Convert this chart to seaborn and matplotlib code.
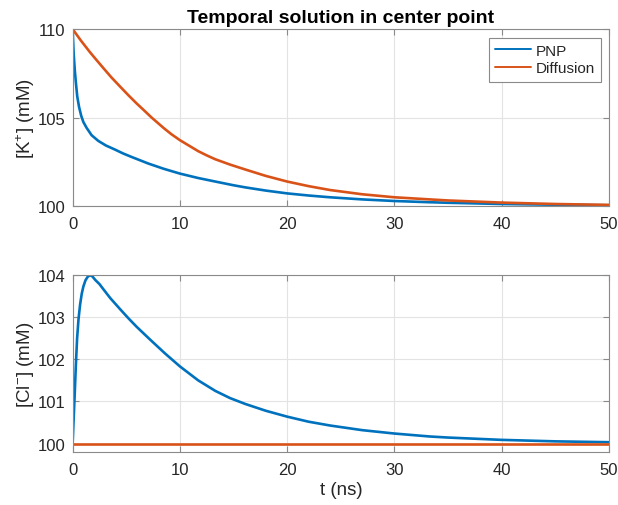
import numpy as np
import pandas as pd
import matplotlib
matplotlib.use("Agg")
import matplotlib.pyplot as plt
import seaborn as sns

# values
t_k_pnp = [0, 0.05, 0.1, 0.2, 0.3, 0.43, 0.6, 0.8, 1.0, 1.3, 1.77, 2.39, 3.1, 3.94, 4.7, 5.5, 7.05, 8.5, 10, 11.7, 13.3, 15, 16.1, 18, 20, 22, 24, 27, 30, 33.3, 35, 40, 45, 50]
k_pnp = [110, 109.3, 108.6, 107.7, 107.0, 106.2, 105.6, 105.1, 104.75, 104.42, 104.0, 103.68, 103.42, 103.19, 102.97, 102.77, 102.4, 102.1, 101.83, 101.58, 101.38, 101.17, 101.05, 100.87, 100.71, 100.59, 100.49, 100.37, 100.28, 100.21, 100.18, 100.11, 100.07, 100.04]

t_k_diff = [0, 0.8, 1.61, 2.2, 2.86, 3.6, 4.41, 5.2, 5.96, 6.7, 7.36, 8.5, 9.2, 10, 11.7, 12.5, 13.3, 14.67, 16.1, 18, 20, 22, 24, 27, 30, 33.3, 35, 40, 45, 50]
k_diff = [110, 109.33, 108.7, 108.27, 107.8, 107.28, 106.76, 106.26, 105.8, 105.38, 105.0, 104.4, 104.06, 103.72, 103.1, 102.86, 102.64, 102.34, 102.06, 101.7, 101.38, 101.12, 100.9, 100.66, 100.49, 100.37, 100.31, 100.19, 100.11, 100.06]

t_cl_pnp = [0, 0.1, 0.2, 0.3, 0.42, 0.55, 0.7, 0.85, 1.0, 1.2, 1.4, 1.61, 1.85, 2.1, 2.5, 2.86, 3.5, 4.41, 5.2, 5.96, 7.2, 8.6, 10, 11.7, 13.3, 14.67, 16.1, 18, 20, 22, 24, 27, 30, 33.3, 35, 40, 45, 50]
cl_pnp = [100, 100.6, 101.2, 101.85, 102.5, 102.95, 103.3, 103.55, 103.72, 103.87, 103.95, 103.99, 103.96, 103.88, 103.78, 103.66, 103.45, 103.19, 102.97, 102.77, 102.47, 102.14, 101.83, 101.5, 101.25, 101.08, 100.94, 100.78, 100.64, 100.52, 100.43, 100.32, 100.24, 100.17, 100.145, 100.09, 100.055, 100.035]

t_cl_diff = [0, 50]
cl_diff = [100, 100]

blue = "#0072BD"
red = "#D95319"
dark = "#262626"
edge = "#8a8a8a"

sns.set_style("ticks")
plt.rcParams["font.family"] = ["Liberation Sans", "DejaVu Sans"]
plt.rcParams["mathtext.default"] = "regular"
plt.rcParams["xtick.direction"] = "in"
plt.rcParams["ytick.direction"] = "in"

fig = plt.figure(figsize=(6.18, 5.06), dpi=100)
ax1 = fig.add_axes([0.1175, 0.591, 0.868, 0.3495])
ax2 = fig.add_axes([0.1175, 0.1045, 0.868, 0.3505])

sns.lineplot(x=t_k_pnp, y=k_pnp, ax=ax1, color=blue, lw=1.9, label="PNP")
sns.lineplot(x=t_k_diff, y=k_diff, ax=ax1, color=red, lw=1.9, label="Diffusion")
sns.lineplot(x=t_cl_pnp, y=cl_pnp, ax=ax2, color=blue, lw=1.9)
sns.lineplot(x=t_cl_diff, y=cl_diff, ax=ax2, color=red, lw=1.9)

ax1.set_ylim(100, 110)
ax1.set_yticks([100, 105, 110])
ax2.set_ylim(99.8, 104)
ax2.set_yticks([100, 101, 102, 103, 104])

for ax in (ax1, ax2):
    ax.set_xlim(0, 50)
    ax.set_xticks([0, 10, 20, 30, 40, 50])
    ax.grid(True, color="#e3e3e3", lw=0.8)
    ax.set_axisbelow(True)
    for s in ax.spines.values():
        s.set_color(edge)
        s.set_linewidth(0.8)
    ax.tick_params(axis="both", which="both", top=True, right=True,
                   color=edge, length=4, labelsize=12, labelcolor=dark)
    ax.tick_params(axis="x", pad=7)
    ax.tick_params(axis="y", pad=5)

ax1.set_ylabel("[K$^{+}$] (mM)", fontsize=13.5, color=dark, labelpad=1)
ax2.set_ylabel("[Cl$^{-}$] (mM)", fontsize=13.5, color=dark, labelpad=1)
ax1.set_xlabel("")
ax2.set_xlabel("t (ns)", fontsize=13.5, color=dark, labelpad=3)
ax1.set_title("Temporal solution in center point", fontsize=14, fontweight="bold",
              pad=5, color="black")

leg = ax1.legend(loc="upper right", fontsize=11, fancybox=False, framealpha=1,
                 edgecolor=edge, handlelength=2.35, handletextpad=0.3,
                 borderpad=0.4, labelspacing=0.25, borderaxespad=0.55)
leg.get_frame().set_linewidth(0.8)
for line in leg.get_lines():
    line.set_linewidth(1.4)
for txt in leg.get_texts():
    txt.set_color(dark)

fig.savefig("out.png", dpi=100)
